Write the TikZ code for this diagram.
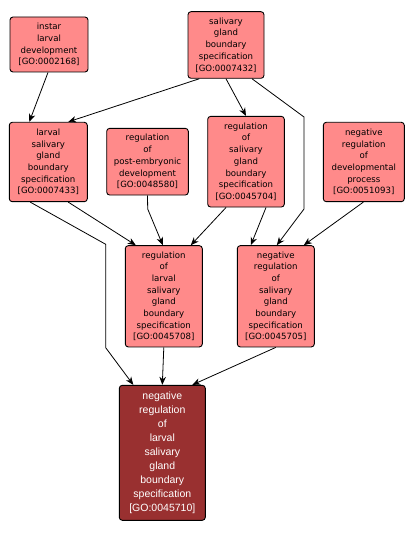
\documentclass[tikz,border=0pt]{standalone}
\usepackage{fontspec}
\newfontfamily\dvfont{DejaVu Sans}
\newfontfamily\lsfont{Liberation Sans}
\usetikzlibrary{arrows.meta}
\definecolor{pinkfill}{RGB}{255,138,138}
\definecolor{darkfill}{RGB}{153,48,48}
\tikzset{
  goterm/.style={draw=black, line width=0.9pt, rounded corners=3pt, fill=pinkfill,
    inner sep=0pt, align=center, font=\dvfont\fontsize{8.6}{11.7}\selectfont, text=black},
  goroot/.style={draw=black, line width=0.9pt, rounded corners=3pt, fill=darkfill,
    inner sep=0pt, align=center, font=\lsfont\fontsize{10.5}{14}\selectfont, text=white},
  isa/.style={line width=0.8pt, -{Stealth[length=8pt,width=6.5pt,inset=2.5pt]}}
}
\begin{document}
\begin{tikzpicture}[x=1pt,y=-1pt]
\useasboundingbox (0,0) rectangle (415,534);
\node[goterm, minimum width=78pt, minimum height=55pt] (A) at (49,44.5)
  {instar\\larval\\development\\{[GO:0002168]}};
\node[goterm, minimum width=76pt, minimum height=66.6pt] (B) at (226,45)
  {salivary\\gland\\boundary\\specification\\{[GO:0007432]}};
\node[goterm, minimum width=78pt, minimum height=79.4pt] (C) at (48.3,162)
  {larval\\salivary\\gland\\boundary\\specification\\{[GO:0007433]}};
\node[goterm, minimum width=81.6pt, minimum height=66.7pt] (D) at (147.5,161.7)
  {regulation\\of\\post-embryonic\\development\\{[GO:0048580]}};
\node[goterm, minimum width=76.6pt, minimum height=90.7pt] (E) at (246,161.7)
  {regulation\\of\\salivary\\gland\\boundary\\specification\\{[GO:0045704]}};
\node[goterm, minimum width=81pt, minimum height=79.4pt] (F) at (363.8,162)
  {negative\\regulation\\of\\developmental\\process\\{[GO:0051093]}};
\node[goterm, minimum width=77pt, minimum height=101.3pt] (G) at (163.8,296.3)
  {regulation\\of\\larval\\salivary\\gland\\boundary\\specification\\{[GO:0045708]}};
\node[goterm, minimum width=77pt, minimum height=101.3pt] (H) at (275.8,296.3)
  {negative\\regulation\\of\\salivary\\gland\\boundary\\specification\\{[GO:0045705]}};
\node[goroot, minimum width=86pt, minimum height=135pt] (I) at (162.3,452.8)
  {negative\\regulation\\of\\larval\\salivary\\gland\\boundary\\specification\\{[GO:0045710]}};

\coordinate (bh1) at (304,117);
\coordinate (bh2) at (304,209);
\coordinate (ci1) at (105.7,244.3);
\coordinate (ci2) at (105.7,347.7);
\coordinate (dg1) at (147.7,209);

\draw[isa] ([xshift=-1pt]A.south) -- ([xshift=-19pt]C.north);
\draw[isa] ([xshift=-26.7pt]B.south) -- ([xshift=20pt]C.north);
\draw[isa] (B.south) -- (E.north);
\draw[isa] ([xshift=26pt]B.south) -- (bh1) -- (bh2) -- ([xshift=1pt]H.north);
\draw[isa] ([xshift=20pt]C.south) -- ([xshift=-28pt]G.north);
\draw[isa] ([xshift=-18pt]C.south) -- (ci1) -- (ci2) -- ([xshift=-29pt]I.north);
\draw[isa] (D.south) -- (dg1) -- ([xshift=-1pt]G.north);
\draw[isa] ([xshift=-20pt]E.south) -- ([xshift=27pt]G.north);
\draw[isa] ([xshift=20pt]E.south) -- ([xshift=-25pt]H.north);
\draw[isa] ([xshift=-0.5pt]F.south) -- ([xshift=28pt]H.north);
\draw[isa] (G.south) -- (I.north);
\draw[isa] (H.south) -- ([xshift=30pt]I.north);
\end{tikzpicture}
\end{document}
